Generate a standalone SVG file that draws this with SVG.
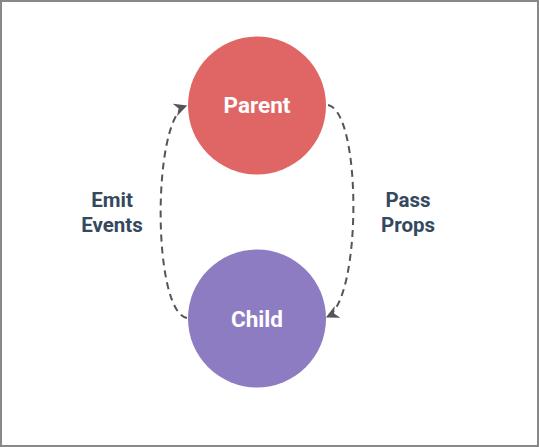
<svg xmlns="http://www.w3.org/2000/svg" width="539" height="447" viewBox="0 0 539 447">
<style>
.node-label{font-family:Roboto,"Liberation Sans",sans-serif;font-weight:bold;font-size:22.5px;fill:#ffffff;text-anchor:middle}
.edge-label{font-family:Roboto,"Liberation Sans",sans-serif;font-weight:bold;font-size:20.5px;fill:#34495e;text-anchor:middle}
.edge{fill:none;stroke:#555555;stroke-width:2;stroke-dasharray:7,5}
</style>
<defs>
<marker id="arrow" viewBox="0 0 10 10" refX="9" refY="5" markerWidth="6.5" markerHeight="6.5" orient="auto" markerUnits="strokeWidth">
<path d="M0,0 L10,5 L0,10 L3,5 Z" fill="#555555"/>
</marker>
</defs>
<rect x="1" y="1" width="537" height="445" fill="#ffffff" stroke="#888888" stroke-width="2"/>
<g id="connectors">
<path class="edge" d="M187,318 C152,312 152,118 186,106" marker-end="url(#arrow)"/>
<path class="edge" d="M328,105 C362,112 362,300 327,317" marker-end="url(#arrow)"/>
</g>
<g id="parent">
<circle cx="257" cy="105.5" r="69" fill="#e06666"/>
<text class="node-label" x="257" y="113">Parent</text>
</g>
<g id="child">
<circle cx="257" cy="318.5" r="69" fill="#8e7cc3"/>
<text class="node-label" x="257" y="326.5">Child</text>
</g>
<g id="label-emit">
<text class="edge-label" x="112" y="207">Emit</text>
<text class="edge-label" x="112" y="232">Events</text>
</g>
<g id="label-pass">
<text class="edge-label" x="408" y="207">Pass</text>
<text class="edge-label" x="408" y="232">Props</text>
</g>
</svg>
